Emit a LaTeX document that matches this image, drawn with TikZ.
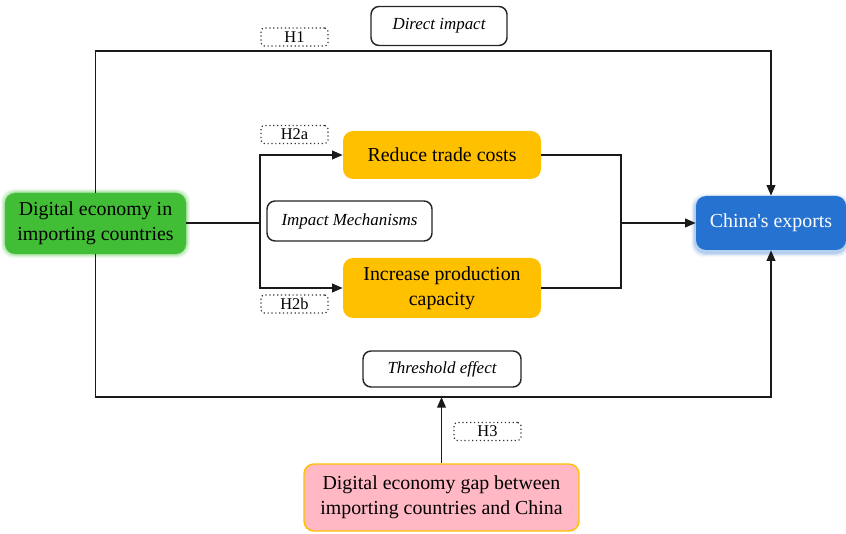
\documentclass[tikz,border=0pt]{standalone}
\usepackage{fontspec}
\setmainfont{Liberation Serif}[Ligatures=TeXOff]
\usetikzlibrary{arrows.meta,positioning}
\definecolor{gbox}{HTML}{42BE36}
\definecolor{obox}{HTML}{FFC000}
\definecolor{bbox}{HTML}{2672D0}
\definecolor{pbox}{HTML}{FFB8C4}
\definecolor{lineC}{HTML}{1A1A1A}
\tikzset{
  px/.style={x=0.75pt,y=-0.75pt},
  arr/.style={-{Triangle[length=8pt,width=6.5pt]},line width=1.35pt,draw=lineC},
  ln/.style={line width=1.35pt,draw=lineC},
  mainbox/.style={rounded corners=7.5pt,align=center,font=\fontsize{14.9pt}{18.75pt}\selectfont,inner sep=0pt},
  labbox/.style={rounded corners=6pt,draw=black!85,line width=1.1pt,fill=white,font=\fontsize{12.7pt}{15pt}\selectfont\itshape,inner sep=0pt},
  hbox/.style={rounded corners=2.5pt,draw=black!80,dotted,line width=0.9pt,fill=white,font=\fontsize{12.3pt}{13pt}\selectfont,minimum width=50.25pt,minimum height=13.5pt,inner sep=0pt},
}
\begin{document}
\begin{tikzpicture}[px]
\useasboundingbox (0,0) rectangle (846,534);
% glows / shadows
\foreach \o/\a in {4/0.08,3/0.12,2/0.16,1/0.22}{
  \fill[gbox,opacity=\a,rounded corners=9pt] (5-\o,193-\o) rectangle (186+\o,254+\o);
}
\foreach \o/\a in {4/0.05,3/0.08,2/0.11,1/0.15}{
  \fill[bbox,opacity=\a,rounded corners=9pt] (696-\o-1,196-\o+2) rectangle (846+\o,250+\o+3);
}
% main nodes
\node[mainbox,fill=gbox,minimum width=135.75pt,minimum height=45.75pt] (g) at (95.5,223.5) {Digital economy in\\importing countries};
\node[mainbox,fill=bbox,text=white,minimum width=112.5pt,minimum height=40.5pt] (b) at (771,223) {China's exports};
\node[mainbox,fill=obox,minimum width=148.5pt,minimum height=36pt] (o1) at (442,155) {Reduce trade costs};
\node[mainbox,fill=obox,minimum width=148.5pt,minimum height=45pt] (o2) at (442,288) {Increase production\\capacity};
\node[mainbox,fill=pbox,draw=obox,line width=1.1pt,minimum width=206.25pt,minimum height=50.25pt] (p) at (441.5,497.5) {Digital economy gap between\\importing countries and China};
% coordinates
\coordinate (ytop) at (0,51);
\coordinate (ybot) at (0,397);
\coordinate (br) at (260,223);
\coordinate (mg) at (621,223);
% connectors
\draw[arr] (g.north) |- (ytop -| b.north) -- (b.north);
\draw[arr] (g.south) |- (ybot -| b.south) -- (b.south);
\draw[ln] (g.east |- br) -- (br);
\draw[arr] (br) |- (o1.west);
\draw[arr] (br) |- (o2.west);
\draw[ln] (o1.east) -| (mg);
\draw[ln] (o2.east) -| (mg);
\draw[arr] (mg) -- (b.west);
\draw[arr] (p.north) -- (p.north |- ybot);
% labels
\node[labbox,minimum width=102pt,minimum height=29.25pt] (di) at (439,26) {Direct impact};
\node[labbox,minimum width=123.75pt,minimum height=30pt] (im) at (349.5,221) {Impact Mechanisms};
\node[labbox,minimum width=118.5pt,minimum height=27pt] (te) at (442,369) {Threshold effect};
\node[hbox] (h1) at (294.5,37) {H1};
\node[hbox] (h2a) at (294.5,134.5) {H2a};
\node[hbox] (h2b) at (294.5,304) {H2b};
\node[hbox] (h3) at (487.5,431.5) {H3};
\end{tikzpicture}
\end{document}
